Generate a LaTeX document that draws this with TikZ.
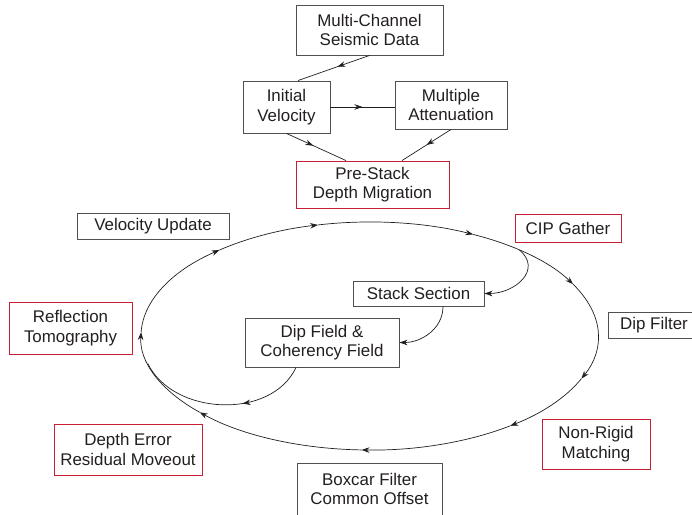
\documentclass[tikz,border=0pt]{standalone}
\usepackage{fontspec}
\setmainfont{Liberation Sans}
\usetikzlibrary{arrows.meta,decorations.markings,calc}

\definecolor{ink}{RGB}{35,31,32}
\definecolor{boxgray}{RGB}{80,80,80}
\definecolor{boxred}{RGB}{200,32,50}

\tikzset{
  box/.style={draw=boxgray, line width=0.9pt, align=center, inner sep=0pt, text=ink},
  redbox/.style={box, draw=boxred},
  tip/.style={-{Stealth[length=8pt,width=5.5pt]}},
  midarrow/.style={postaction={decorate}, decoration={markings,
      mark=at position #1 with {\arrow{Stealth[length=8pt,width=5.5pt]}}}},
  midarrow/.default=0.5
}

\begin{document}
\begin{tikzpicture}[x=1pt, y=-1pt, font=\fontsize{16.9}{19.5}\selectfont, line width=0.7pt, color=ink]

    \useasboundingbox (0,0) rectangle (692,514);

    % Preprocessing chain
    \node[box, minimum width=147, minimum height=50] (mcsd) at (369.5,30) {Multi-Channel\\Seismic Data};
    \node[box, minimum width=87, minimum height=52] (ivel) at (286.5,107) {Initial\\Velocity};
    \node[box, minimum width=112, minimum height=48] (mult) at (451,105) {Multiple\\Attenuation};
    \node[redbox, minimum width=153, minimum height=47] (psdm) at (372.5,184.5) {Pre-Stack\\Depth Migration};

    \draw[midarrow=0.45] (mcsd.south) -- ([xshift=11.5pt]ivel.north);
    \draw[midarrow] (ivel.east) -- (ivel.east -| mult.west);
    \draw[midarrow=0.45] (ivel.south) -- ([xshift=-26.5pt]psdm.north);
    \draw[midarrow] (mult.south) -- ([xshift=29.5pt]psdm.north);

    % Loop labels
    \node[box, minimum width=152, minimum height=26] (vupd) at (153,226) {Velocity Update};
    \node[redbox, minimum width=106, minimum height=28] (cip) at (568,228) {CIP Gather};
    \node[redbox, minimum width=123, minimum height=52] (refl) at (70.5,328) {Reflection\\Tomography};
    \node[box, minimum width=92, minimum height=26] (dfil) at (654,325) {Dip Filter};
    \node[redbox, minimum width=108, minimum height=50] (nrm) at (596,444) {Non-Rigid\\Matching};
    \node[redbox, minimum width=148, minimum height=51] (derr) at (128,449.5) {Depth Error\\Residual Moveout};
    \node[box, minimum width=145, minimum height=52] (boxc) at (369.5,489) {Boxcar Filter\\Common Offset};

    % Inner boxes
    \node[box, minimum width=131, minimum height=25] (stack) at (418.5,293.5) {Stack Section};
    \node[box, minimum width=154, minimum height=49] (dipf) at (322,342.5) {Dip Field \&\\Coherency Field};

    % The loop, clockwise
    \coordinate (c) at (369.5,336);
    \foreach \a/\b in {-131/-103, -103/-63, -63/-27, -27/22, 22/52, 52/92, 92/138, 138/182, 182/229}
        \draw[tip] (c) ++(\a:228.5 and 114) arc[start angle=\a, end angle=\b, x radius=228.5, y radius=114];

    \path (c) ++(-49:228.5 and 114) coordinate (brk);
    \path (c) ++(166:228.5 and 114) coordinate (jn);

    % Side branch
    \draw[tip] (brk) to[out=-40, in=0, looseness=1.4] (stack.east);
    \draw[tip] ([xshift=24.5pt]stack.south) to[out=-90, in=0] (dipf.east);
    \draw[midarrow=0.38] ([xshift=-26pt]dipf.south) to[out=-115, in=-64] (jn);

\end{tikzpicture}
\end{document}
